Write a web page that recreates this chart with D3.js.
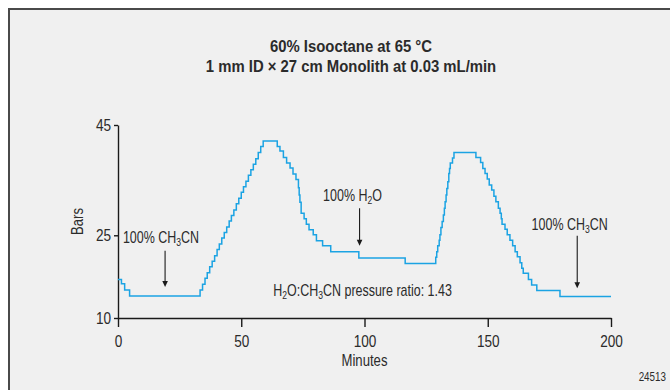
<!DOCTYPE html>
<html>
<head>
<meta charset="utf-8">
<script src="https://cdn.jsdelivr.net/npm/d3@7"></script>
<style>
  body { margin: 0; background: #fff; }
  svg { display: block; }
  text { font-family: "Liberation Sans", Arial, sans-serif; fill: #2b2b2b; }
</style>
</head>
<body>
<svg id="chart" width="670" height="390"></svg>
<script>
// Step trace: time (min) where each level starts, and pressure (bar)
var minutes = [0, 1.4, 2.7, 4.7,
  33.3, 34.3, 35.3, 36.2, 37.2, 38.2, 39.2, 40.2, 41.1, 42.1, 43.1, 44.1, 45.1, 46.0,
  47.0, 48.0, 49.0, 50.0, 50.9, 51.9, 52.9, 53.9, 54.9, 55.9, 56.9, 57.9, 58.9,
  64.6, 65.7, 67.1, 68.4, 69.8, 71.0, 72.2, 73.2, 73.5, 73.8, 74.3, 75.5, 76.4, 77.5,
  79.2, 80.5, 83.0, 86.3, 97.7, 116.5,
  128.9, 129.3, 129.7, 130.3, 130.6, 131.0, 131.5, 132.0, 132.4, 132.7, 133.1, 133.4,
  133.8, 134.2, 134.5, 134.8, 135.7, 136.3,
  145.2, 147.1, 148.0, 148.9, 149.8, 150.6, 151.6, 152.5, 153.3, 154.3, 155.0, 155.5,
  155.8, 157.0, 157.9, 159.0, 160.1, 161.1, 162.0, 163.1, 163.8, 164.4, 166.5, 167.8,
  169.9, 179.3, 200];
var bars = [17.0, 16.2, 15.1, 14.0,
  15.1, 16.1, 17.2, 18.2, 19.3, 20.3, 21.3, 22.4, 23.4, 24.5, 25.5, 26.5, 27.6, 28.6,
  29.6, 30.7, 31.7, 32.8, 33.8, 34.8, 35.9, 36.9, 37.9, 38.9, 40.0, 41.1, 42.1,
  41.1, 40.3, 39.1, 38.1, 37.2, 36.1, 35.1, 33.6, 32.3, 31.0, 29.0, 28.0, 27.0, 26.0,
  25.1, 24.0, 23.1, 22.0, 20.9, 19.9,
  21.0, 22.0, 23.1, 24.1, 25.1, 26.4, 27.5, 28.7, 29.9, 31.1, 32.3, 33.5,
  34.7, 36.2, 37.1, 38.1, 39.0, 40.0,
  39.1, 38.2, 37.1, 36.2, 35.2, 34.1, 33.2, 32.1, 31.1, 29.9, 29.0, 28.0,
  27.0, 26.1, 25.1, 24.1, 23.1, 22.0, 21.1, 20.0, 19.0, 18.1, 17.0, 16.0,
  15.0, 13.9, 13.9];

var xTicks = [0, 50, 100, 150, 200];
var yTicks = [10, 25, 45];

var titleLines = ["60% Isooctane at 65 \u00b0C", "1 mm ID \u00d7 27 cm Monolith at 0.03 mL/min"];

// Labels: pieces of text, subscripts flagged; anchored in data units
var noteParts = [
  [["100% CH", false], ["3", true], ["CN", false]],
  [["100% H", false], ["2", true], ["O", false]],
  [["100% CH", false], ["3", true], ["CN", false]],
  [["H", false], ["2", true], ["O:CH", false], ["3", true], ["CN pressure ratio: 1.43", false]]
];
var noteMinutes = [2.0, 83.2, 167.8, 63.0];
var noteBars = [23.6, 31.2, 26.0, 14.0];

// Arrows: minute, top (bar), tip (bar)
var arrowMinutes = [19.1, 98.0, 186.3];
var arrowTop = [22.2, 29.9, 24.9];
var arrowTip = [15.6, 23.1, 15.4];

var svg = d3.select("#chart");

// The figure uses a condensed face; squeeze a normal sans around each text's anchor
function condense(sel, k) {
  sel.each(function () {
    var ax = +this.getAttribute("x") || 0;
    d3.select(this).attr("transform",
      "translate(" + ax + ",0) scale(" + k + ",1) translate(" + (-ax) + ",0)");
  });
}

// Panel frame, runs off the right and bottom edge
svg.append("rect")
  .attr("x", 9).attr("y", 9)
  .attr("width", 700).attr("height", 420)
  .attr("fill", "#f0f0f0")
  .attr("stroke", "#4a4a4a")
  .attr("stroke-width", 2);

var x = d3.scaleLinear().domain([0, 200]).range([118, 611]);
var y = d3.scaleLinear().domain([10, 45]).range([318, 125]);

// Title
svg.selectAll("text.title")
  .data(titleLines)
  .enter().append("text")
  .attr("class", "title")
  .attr("x", 351)
  .attr("y", function (d, i) { return 52 + i * 20; })
  .attr("text-anchor", "middle")
  .style("font-weight", "bold")
  .style("font-size", "16px")
  .text(function (d) { return d; })
  .call(condense, 0.93);

// Axes
var xAxis = svg.append("g")
  .attr("transform", "translate(0," + y(10) + ")")
  .call(d3.axisBottom(x).tickValues(xTicks).tickSize(9).tickSizeOuter(0).tickPadding(8));

var yAxis = svg.append("g")
  .attr("transform", "translate(" + x(0) + ",0)")
  .call(d3.axisLeft(y).tickValues(yTicks).tickSize(4).tickSizeOuter(0).tickPadding(3));

[xAxis, yAxis].forEach(function (g) {
  g.attr("font-family", null).attr("font-size", null);
  g.selectAll("path, line").attr("stroke", "#1a1a1a").attr("stroke-width", 1.4);
  g.selectAll("text").style("font-size", "17px").attr("fill", "#2b2b2b").call(condense, 0.8);
});

svg.append("text")
  .attr("x", (x(0) + x(200)) / 2)
  .attr("y", 366)
  .attr("text-anchor", "middle")
  .style("font-size", "16px")
  .text("Minutes")
  .call(condense, 0.82);

svg.append("text")
  .attr("transform", "translate(83," + y(27.5) + ") rotate(-90) scale(0.82,1)")
  .attr("text-anchor", "middle")
  .style("font-size", "16px")
  .text("Bars");

// Pressure trace
var pts = minutes.map(function (m, i) { return [m, bars[i]]; });

var line = d3.line()
  .x(function (d) { return x(d[0]); })
  .y(function (d) { return y(d[1]); })
  .curve(d3.curveStepAfter);

svg.append("path")
  .datum(pts)
  .attr("d", line)
  .attr("fill", "none")
  .attr("stroke", "#1ba3e3")
  .attr("stroke-width", 1.5);

// Annotations
noteParts.forEach(function (parts, i) {
  var t = svg.append("text")
    .attr("x", x(noteMinutes[i]))
    .attr("y", y(noteBars[i]))
    .style("font-size", "16px");
  parts.forEach(function (p, j) {
    var sp = t.append("tspan").text(p[0]);
    if (p[1]) {
      sp.attr("dy", 3).style("font-size", "11px");
    }
    else if (j > 0) {
      sp.attr("dy", -3);
    }
  });
  t.call(condense, 0.78);
});

arrowMinutes.forEach(function (m, i) {
  var ax = x(m), y0 = y(arrowTop[i]), y1 = y(arrowTip[i]);
  svg.append("line")
    .attr("x1", ax).attr("x2", ax)
    .attr("y1", y0).attr("y2", y1 - 4)
    .attr("stroke", "#1a1a1a")
    .attr("stroke-width", 1.1);
  svg.append("path")
    .attr("d", "M" + (ax - 2.8) + "," + (y1 - 6) + "L" + (ax + 2.8) + "," + (y1 - 6) + "L" + ax + "," + y1 + "Z")
    .attr("fill", "#1a1a1a");
});

svg.append("text")
  .attr("x", 666)
  .attr("y", 381)
  .attr("text-anchor", "end")
  .style("font-size", "12px")
  .text("24513")
  .call(condense, 0.82);
</script>
</body>
</html>
